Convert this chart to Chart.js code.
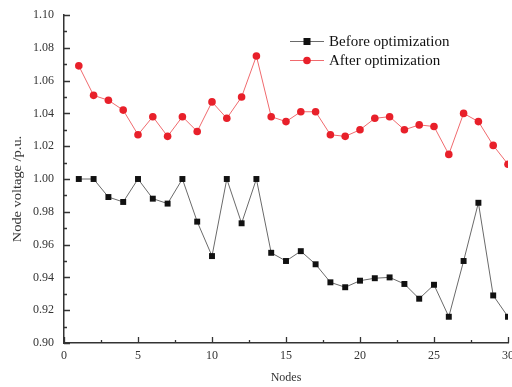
<!DOCTYPE html>
<html>
<head>
<meta charset="utf-8">
<script src="https://cdn.jsdelivr.net/npm/chart.js@4/dist/chart.umd.min.js"></script>
<style>
  html, body { margin: 0; padding: 0; background: #fff; }
  #wrap { width: 512px; height: 387px; position: relative; }
</style>
</head>
<body>
<div id="wrap"><canvas id="c" width="512" height="387"></canvas></div>
<script>
// Node numbers of the feeder
const nodes = [1,2,3,4,5,6,7,8,9,10,11,12,13,14,15,16,17,18,19,20,21,22,23,24,25,26,27,28,29,30];

// Node voltages (p.u.) before optimization
const beforeOpt = [1.000,1.000,0.989,0.986,1.000,0.988,0.985,1.000,0.974,0.953,
                   1.000,0.973,1.000,0.955,0.950,0.956,0.948,0.937,0.934,0.938,
                   0.9395,0.940,0.936,0.927,0.9355,0.916,0.950,0.9855,0.929,0.916];

// Node voltages (p.u.) after optimization
const afterOpt = [1.069,1.051,1.048,1.042,1.027,1.038,1.026,1.038,1.029,1.047,
                  1.037,1.050,1.075,1.038,1.035,1.041,1.041,1.027,1.026,1.030,
                  1.037,1.038,1.030,1.033,1.032,1.015,1.040,1.035,1.0205,1.009];

const seriesNames = ['Before optimization', 'After optimization'];
const xTicks = [0, 5, 10, 15, 20, 25, 30];
const yTicks = [0.90, 0.92, 0.94, 0.96, 0.98, 1.00, 1.02, 1.04, 1.06, 1.08, 1.10];
const yTitle = 'Node voltage /p.u.';

const SERIF = '"Liberation Serif", "Times New Roman", serif';

// Inward-pointing major and minor tick marks on both axes
const insideTicks = {
  id: 'insideTicks',
  afterDatasetsDraw(chart) {
    const ctx = chart.ctx;
    const xs = chart.scales.x, ys = chart.scales.y;
    const area = chart.chartArea;
    ctx.save();
    ctx.strokeStyle = '#333';
    ctx.lineWidth = 1.3;
    ctx.beginPath();
    for (let i = 0; i < xTicks.length; i++) {
      const px = Math.round(xs.getPixelForValue(xTicks[i])) + 0.5;
      ctx.moveTo(px, area.bottom); ctx.lineTo(px, area.bottom - 6);
      if (i < xTicks.length - 1) {
        const mx = Math.round(xs.getPixelForValue((xTicks[i] + xTicks[i + 1]) / 2)) + 0.5;
        ctx.moveTo(mx, area.bottom); ctx.lineTo(mx, area.bottom - 3);
      }
    }
    for (let i = 0; i < yTicks.length; i++) {
      const py = Math.round(ys.getPixelForValue(yTicks[i])) + 0.5;
      ctx.moveTo(area.left, py); ctx.lineTo(area.left + 6, py);
      if (i < yTicks.length - 1) {
        const my = Math.round(ys.getPixelForValue((yTicks[i] + yTicks[i + 1]) / 2)) + 0.5;
        ctx.moveTo(area.left, my); ctx.lineTo(area.left + 3, my);
      }
    }
    ctx.stroke();
    ctx.restore();
  }
};

// Rotated y-axis caption, slightly stretched along its length
const yCaption = {
  id: 'yCaption',
  afterDraw(chart) {
    const ctx = chart.ctx;
    ctx.save();
    ctx.translate(18, 189);
    ctx.rotate(-Math.PI / 2);
    ctx.scale(1.2, 1);
    ctx.fillStyle = '#333';
    ctx.font = '12px ' + SERIF;
    ctx.textAlign = 'center';
    ctx.textBaseline = 'middle';
    ctx.fillText(yTitle, 0, 0);
    ctx.restore();
  }
};

// Two-row legend inside the plot, top right
const boxLegend = {
  id: 'boxLegend',
  afterDraw(chart) {
    const ctx = chart.ctx;
    const x0 = 290, x1 = 324, tx = 329;
    const rows = [41, 60];
    ctx.save();
    chart.data.datasets.forEach((ds, i) => {
      const y = rows[i];
      ctx.strokeStyle = ds.borderColor;
      ctx.lineWidth = 1;
      ctx.beginPath();
      ctx.moveTo(x0, y + 0.5); ctx.lineTo(x1, y + 0.5);
      ctx.stroke();
      ctx.fillStyle = ds.pointBackgroundColor;
      const cx = (x0 + x1) / 2;
      if (ds.pointStyle === 'rect') {
        ctx.fillRect(cx - 3.5, y - 3, 7, 7);
      } else {
        ctx.beginPath();
        ctx.arc(cx, y + 0.5, 3.8, 0, Math.PI * 2);
        ctx.fill();
      }
      ctx.fillStyle = '#111';
      ctx.font = '15px ' + SERIF;
      ctx.textBaseline = 'middle';
      ctx.textAlign = 'left';
      ctx.fillText(ds.label, tx, y + 1);
    });
    ctx.restore();
  }
};

new Chart(document.getElementById('c'), {
  type: 'line',
  data: {
    datasets: [
      {
        label: seriesNames[0],
        data: nodes.map((n, i) => ({ x: n, y: beforeOpt[i] })),
        borderColor: '#6a6a6a',
        borderWidth: 1,
        pointStyle: 'rect',
        pointRadius: 4.2,
        pointBackgroundColor: '#111',
        pointBorderColor: '#111',
        pointBorderWidth: 0,
        tension: 0
      },
      {
        label: seriesNames[1],
        data: nodes.map((n, i) => ({ x: n, y: afterOpt[i] })),
        borderColor: '#f06a6e',
        borderWidth: 1,
        pointStyle: 'circle',
        pointRadius: 3.8,
        pointBackgroundColor: '#e8202a',
        pointBorderColor: '#e8202a',
        pointBorderWidth: 0,
        tension: 0
      }
    ]
  },
  options: {
    responsive: false,
    animation: false,
    devicePixelRatio: 1,
    layout: { autoPadding: false, padding: { left: 0, right: 4, top: 15, bottom: 0 } },
    plugins: { legend: { display: false }, tooltip: { enabled: false } },
    scales: {
      x: {
        type: 'linear',
        min: 0, max: 30,
        afterFit(s) { s.height = 44; s.paddingLeft = 0; s.paddingRight = 0; },
        afterBuildTicks(s) { s.ticks = xTicks.map(v => ({ value: v })); },
        ticks: { color: '#333', font: { family: SERIF, size: 12 }, padding: 6, maxRotation: 0 },
        grid: { display: true, drawOnChartArea: false, drawTicks: false },
        border: { display: true, color: '#333', width: 1.5 },
        title: { display: true, text: 'Nodes', color: '#333', font: { family: SERIF, size: 12 }, padding: { top: 0, bottom: 2 } }
      },
      y: {
        min: 0.90, max: 1.10,
        afterFit(s) { s.width = 64; s.paddingTop = 0; s.paddingBottom = 0; },
        afterBuildTicks(s) { s.ticks = yTicks.map(v => ({ value: v })); },
        ticks: { color: '#333', font: { family: SERIF, size: 12 }, padding: 10,
                 callback: v => Number(v).toFixed(2) },
        grid: { display: true, drawOnChartArea: false, drawTicks: false },
        border: { display: true, color: '#333', width: 1.5 },
        title: { display: false }
      }
    }
  },
  plugins: [insideTicks, yCaption, boxLegend]
});
</script>
</body>
</html>
